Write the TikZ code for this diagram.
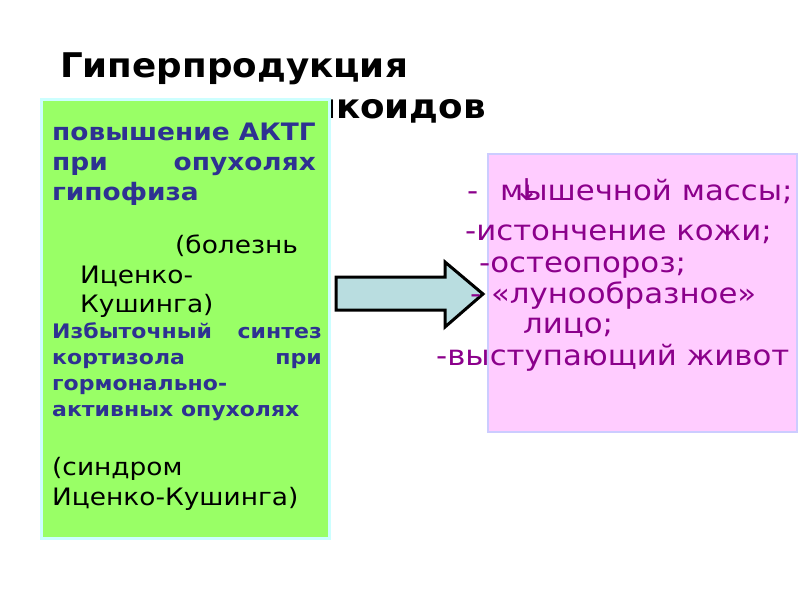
\documentclass[tikz,border=0pt]{standalone}
\usepackage{fontspec}
\setmainfont{DejaVu Sans}
\newfontfamily\widefont[FakeStretch=1.1]{DejaVu Sans}
\newfontfamily\ttlfont[FakeStretch=1.05]{DejaVu Sans}
\newfontfamily\arrfont{DejaVu Sans}
\definecolor{boxgreen}{HTML}{99FF66}
\definecolor{boxgreenedge}{HTML}{CCFFFF}
\definecolor{boxpink}{HTML}{FFCCFF}
\definecolor{boxpinkedge}{HTML}{CCCCFF}
\definecolor{txtblue}{HTML}{2E3192}
\definecolor{txtpurple}{HTML}{8B008B}
\definecolor{arrowfill}{HTML}{B9DDE0}
\tikzset{
  ttl/.style={font=\ttlfont\fontsize{34}{40}\selectfont\bfseries, text=black, inner sep=0pt},
  bluet/.style={font=\widefont\fontsize{24}{28}\selectfont\bfseries, text=txtblue, inner sep=0pt},
  bluet2/.style={font=\widefont\fontsize{20}{24}\selectfont\bfseries, text=txtblue, inner sep=0pt},
  blackt/.style={font=\widefont\fontsize{24}{28}\selectfont, text=black, inner sep=0pt},
  purt/.style={font=\widefont\fontsize{28}{32}\selectfont, text=txtpurple, inner sep=0pt},
}
\begin{document}
\begin{tikzpicture}[x=1pt,y=-1pt]
\useasboundingbox (0,0) rectangle (800,600);
\fill[white] (0,0) rectangle (800,600);
% title
\node[ttl, anchor=base west] (t1) at (60,77) {Гиперпродукция};
\begin{scope}
\clip (331,85) rectangle (500,130);
\node[ttl, anchor=base east] (t2) at (486,118) {глюкокортикоидов};
\end{scope}
% green box
\draw[boxgreenedge, line width=3pt, fill=boxgreen] (41.5,99.5) rectangle (329,538.5);
\node[bluet, anchor=base west] (g1) at (52,140) {повышение АКТГ};
\node[bluet, anchor=base west] (g2a) at (52,170) {при};
\node[bluet, anchor=base east] (g2b) at (316,170) {опухолях};
\node[bluet, anchor=base west] (g3) at (52,200) {гипофиза};
\node[blackt, anchor=base west] (g4) at (175,253) {(болезнь};
\node[blackt, anchor=base west] (g5) at (80,283) {Иценко-};
\node[blackt, anchor=base west] (g6) at (80,312) {Кушинга)};
\node[bluet2, anchor=base west] (g7a) at (52,338) {Избыточный};
\node[bluet2, anchor=base east] (g7b) at (322,338) {синтез};
\node[bluet2, anchor=base west] (g8a) at (52,364) {кортизола};
\node[bluet2, anchor=base east] (g8b) at (322,364) {при};
\node[bluet2, anchor=base west] (g9) at (52,390) {гормонально-};
\node[bluet2, anchor=base west] (g10) at (52,416) {активных опухолях};
\node[blackt, anchor=base west] (g11) at (52,475) {(синдром};
\node[blackt, anchor=base west] (g12) at (52,505) {Иценко-Кушинга)};
% pink box
\draw[boxpinkedge, line width=2pt, fill=boxpink] (488,154) rectangle (797,432);
% arrow
\draw[black, line width=3pt, fill=arrowfill, line join=miter]
  (336,277) -- (445,277) -- (445,262) -- (483,294) -- (445,327) -- (445,310) -- (336,310) -- cycle;
% pink text
\node[purt, anchor=base west] (p1) at (467,200) {-\hspace{12pt} мышечной массы;};
\node[font=\arrfont\fontsize{30}{32}\selectfont, text=txtpurple, inner sep=0pt, anchor=base] (p1a) at (527,200) {↓};
\node[purt, anchor=base west] (p2) at (465,240) {-истончение кожи;};
\node[purt, anchor=base west] (p3) at (479,272) {-остеопороз;};
\node[purt, anchor=base west] (p4) at (470,303) {- «лунообразное»};
\node[purt, anchor=base west] (p5) at (523,333) {лицо;};
\node[purt, anchor=base west] (p6) at (436,365) {-выступающий живот};
\end{tikzpicture}
\end{document}
